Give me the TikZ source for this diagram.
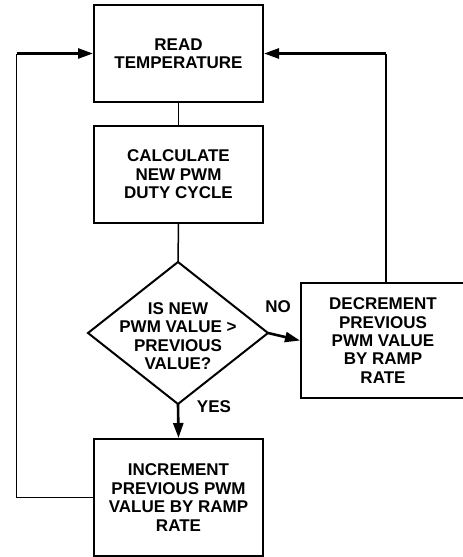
\documentclass[tikz,border=0pt]{standalone}
\usepackage{fontspec}
\setmainfont{Liberation Sans}
\usetikzlibrary{arrows.meta,calc}
\begin{document}
\begin{tikzpicture}[x=1pt,y=-1pt,
  every node/.style={font=\fontsize{17}{18.4}\selectfont\bfseries, align=center},
  procbox/.style={draw, line width=2pt, minimum width=169pt, minimum height=97pt, inner sep=0pt},
  link/.style={line width=1.5pt},
  flow/.style={line width=2.6pt, -{Triangle[length=15pt,width=10pt]}},
  lbl/.style={inner sep=0pt}]
\useasboundingbox (0,0) rectangle (463,557);
\node[procbox] (read) at (178.5,53.5) {READ\\TEMPERATURE};
\node[procbox] (calc) at (178.5,174.5) {CALCULATE\\NEW PWM\\DUTY CYCLE};
\coordinate (dtop) at (178,262);
\coordinate (dleft) at (88,333);
\coordinate (dright) at (268,333);
\coordinate (dbot) at (178,404);
\draw[line width=2pt, line join=miter] (dtop) -- (dright) -- (dbot) -- (dleft) -- cycle;
\node[lbl] (q) at (178,336) {IS NEW\\PWM VALUE >\\PREVIOUS\\VALUE?};
\node[procbox, minimum width=164pt, minimum height=115pt] (decr) at (383,340.5) {DECREMENT\\PREVIOUS\\PWM VALUE\\BY RAMP\\RATE};
\node[procbox, minimum height=117pt] (incr) at (178.5,497.5) {INCREMENT\\PREVIOUS PWM\\VALUE BY RAMP\\RATE};
\node[lbl] (no) at (278,307) {NO};
\node[lbl] (yes) at (214,407) {YES};
\draw[link] (read.south) -- (calc.north);
\draw[link] (calc.south) -- (dtop);
\draw[flow] (dright) -- (decr.west);
\draw[flow] (dbot) -- (incr.north);
\coordinate (rx) at ($(decr.north)+(3,0)$);
\draw[link] (rx) -- (rx |- read.east);
\draw[flow] (rx |- read.east) -- (read.east);
\coordinate (lx) at (16.5,497.5);
\draw[link] (incr.west) -- (lx) -- (lx |- read.west);
\draw[flow] (lx |- read.west) -- (read.west);
\end{tikzpicture}
\end{document}
